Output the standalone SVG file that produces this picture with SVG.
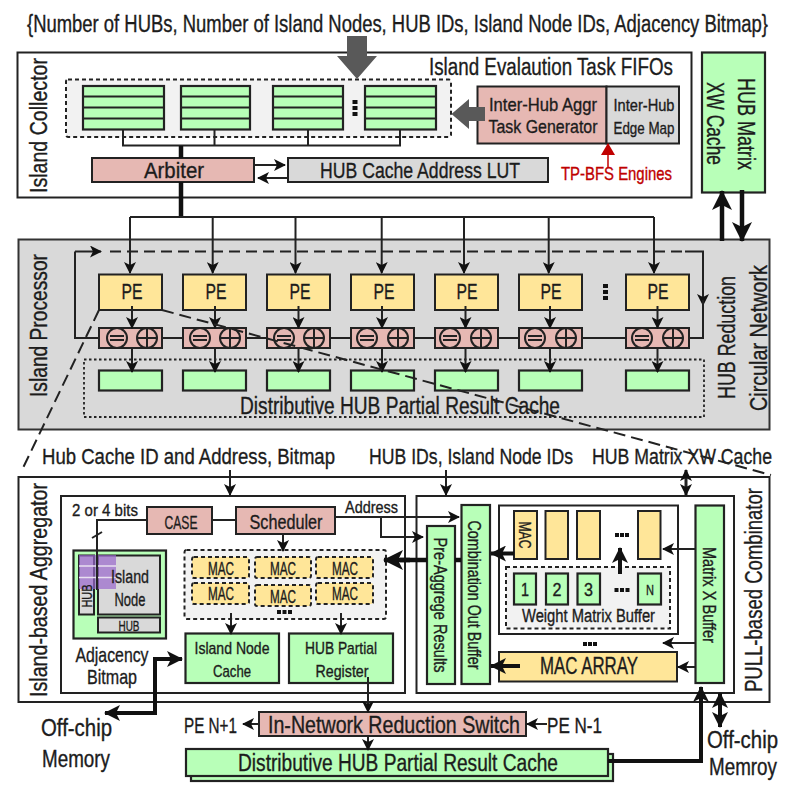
<svg xmlns="http://www.w3.org/2000/svg" width="793" height="789" viewBox="0 0 793 789">
<style>
text{font-family:"Liberation Sans",Arial,sans-serif;fill:#1c1c1c;text-anchor:middle;font-weight:500;stroke:#1c1c1c;stroke-width:.35}
.b{stroke:#222;stroke-width:2;fill:#fff}
.g{stroke:#222;stroke-width:2.2;fill:#b8ffb8}
.y{stroke:#222;stroke-width:2;fill:#ffe699}
.p{stroke:#222;stroke-width:2;fill:#e6b8b3}
.e{stroke:#222;stroke-width:2;fill:#d9d9d9}
.d{stroke:#222;stroke-width:2;fill:#f2f2f2;stroke-dasharray:4 3}
.m{stroke:#222;stroke-width:2;fill:#ffe699;stroke-dasharray:4 3}
.n{fill:none;stroke:#222;stroke-width:2}
.l{fill:none;stroke:#222;stroke-width:2;marker-end:url(#a)}
.t{fill:none;stroke:#111;stroke-width:4.5}
.th{fill:none;stroke:#111;stroke-width:4.5;marker-end:url(#h)}
.ts{fill:none;stroke:#111;stroke-width:4;marker-end:url(#s)}
.z{fill:none;stroke:#222;stroke-width:2;stroke-dasharray:12 6}
.c{fill:none;stroke:#222;stroke-width:2}
</style>
<defs>
<marker id="a" markerUnits="userSpaceOnUse" viewBox="0 0 12 12" refX="11" refY="6" markerWidth="12" markerHeight="12" orient="auto-start-reverse"><path d="M0,0L12,6L0,12L3,6z" fill="#111"/></marker>
<marker id="h" markerUnits="userSpaceOnUse" viewBox="0 0 20 20" refX="19" refY="10" markerWidth="20" markerHeight="20" orient="auto-start-reverse"><path d="M0,0L20,10L0,20L5,10z" fill="#111"/></marker>
<marker id="s" markerUnits="userSpaceOnUse" viewBox="0 0 16 16" refX="15" refY="8" markerWidth="16" markerHeight="16" orient="auto-start-reverse"><path d="M0,0L16,8L0,16L4,8z" fill="#111"/></marker>
<marker id="r" markerUnits="userSpaceOnUse" viewBox="0 0 12 14" refX="11" refY="7" markerWidth="12" markerHeight="14" orient="auto"><path d="M0,0L12,7L0,14z" fill="#c00000"/></marker>
</defs>

<text x="397.500" y="32" font-size="23" textLength="741" lengthAdjust="spacingAndGlyphs">{Number of HUBs, Number of Island Nodes, HUB IDs, Island Node IDs, Adjacency Bitmap}</text>

<g id="island-collector">
<rect class="b" x="17.500" y="52.500" width="674" height="145"/>
<text transform="translate(47,125.500) rotate(-90)" font-size="23" textLength="135" lengthAdjust="spacingAndGlyphs">Island Collector</text>
<text x="551" y="75" font-size="23" textLength="244" lengthAdjust="spacingAndGlyphs">Island Evalaution Task FIFOs</text>
</g>
<g id="task-fifos">
<rect class="d" x="66" y="79.500" width="385" height="57.500" rx="2"/>
<g id="fifo-1"><rect class="g" x="83" y="86" width="81" height="43.500"/><path class="n" d="M83,96.500H164M83,107.500H164M83,118.500H164"/></g>
<g id="fifo-2"><rect class="g" x="181" y="86" width="69" height="43.500"/><path class="n" d="M181,96.500H250M181,107.500H250M181,118.500H250"/></g>
<g id="fifo-3"><rect class="g" x="273" y="86" width="70" height="43.500"/><path class="n" d="M273,96.500H343M273,107.500H343M273,118.500H343"/></g>
<g id="fifo-4"><rect class="g" x="365" y="86" width="71" height="43.500"/><path class="n" d="M365,96.500H436M365,107.500H436M365,118.500H436"/></g>
<path d="M352.500,100h5v4h-5zM352.500,106h5v4h-5zM352.500,112h5v4h-5z" fill="#111"/>
</g>
<g id="arbiter"><rect class="p" x="92" y="158" width="162" height="24"/><text x="174" y="178" font-size="22" textLength="60" lengthAdjust="spacingAndGlyphs">Arbiter</text></g>
<g id="lut"><rect class="e" x="288" y="158" width="260" height="24"/><text x="420" y="178" font-size="22" textLength="200" lengthAdjust="spacingAndGlyphs">HUB Cache Address LUT</text></g>
<g id="task-generator"><rect class="p" x="477.500" y="86.500" width="129" height="57"/><text x="543" y="111" font-size="19" textLength="108" lengthAdjust="spacingAndGlyphs">Inter-Hub Aggr</text><text x="543" y="133" font-size="19" textLength="109" lengthAdjust="spacingAndGlyphs">Task Generator</text></g>
<g id="edge-map"><rect class="e" x="606.500" y="86.500" width="72.500" height="57"/><text x="644" y="111" font-size="17" textLength="61" lengthAdjust="spacingAndGlyphs">Inter-Hub</text><text x="644" y="134" font-size="17" textLength="61" lengthAdjust="spacingAndGlyphs">Edge Map</text></g>
<g id="tp-bfs"><text x="616.500" y="180" font-size="19" textLength="111" lengthAdjust="spacingAndGlyphs" style="fill:#c00000;stroke:#c00000">TP-BFS Engines</text></g>
<g id="xw-cache"><rect class="g" x="702" y="52.500" width="63" height="140"/><text transform="translate(738,124) rotate(90)" font-size="23" textLength="92" lengthAdjust="spacingAndGlyphs">HUB Matrix</text><text transform="translate(707,123.500) rotate(90)" font-size="23" textLength="83" lengthAdjust="spacingAndGlyphs">XW Cache</text></g>

<g id="island-processor">
<rect x="18.500" y="239.500" width="751" height="190" stroke="#333" stroke-width="2" fill="#d9d9d9"/>
<text transform="translate(47,325.500) rotate(-90)" font-size="23" textLength="143" lengthAdjust="spacingAndGlyphs">Island Processor</text>
<text transform="translate(735,337.500) rotate(-90)" font-size="23" textLength="123" lengthAdjust="spacingAndGlyphs">HUB Reduction</text>
<text transform="translate(767,338) rotate(-90)" font-size="23" textLength="146" lengthAdjust="spacingAndGlyphs">Circular Network</text>
<rect x="84" y="359.500" width="620" height="57.500" fill="none" stroke="#222" stroke-width="1.800" stroke-dasharray="2.500 2.500"/>
<text x="400" y="413.500" font-size="23" textLength="320" lengthAdjust="spacingAndGlyphs">Distributive HUB Partial Result Cache</text>
<path d="M603,284h5v4h-5zM603,290h5v4h-5zM603,296h5v4h-5z" fill="#111"/>
</g>
<g id="pe-1"><rect class="y" x="99" y="274.500" width="63" height="35.500"/><text x="132" y="299" font-size="22" textLength="21" lengthAdjust="spacingAndGlyphs">PE</text><rect class="p" x="99" y="328" width="63" height="20"/><circle class="c" cx="117" cy="338" r="10"/><circle class="c" cx="147" cy="338" r="10"/><path class="n" d="M110,336h14M110,340h14M137,338h20M147,328v20"/><rect class="g" x="99" y="370.500" width="63" height="20"/></g>
<g id="pe-2"><rect class="y" x="183" y="274.500" width="63" height="35.500"/><text x="216" y="299" font-size="22" textLength="21" lengthAdjust="spacingAndGlyphs">PE</text><rect class="p" x="183" y="328" width="63" height="20"/><circle class="c" cx="200" cy="338" r="10"/><circle class="c" cx="230" cy="338" r="10"/><path class="n" d="M193,336h14M193,340h14M220,338h20M230,328v20"/><rect class="g" x="183" y="370.500" width="63" height="20"/></g>
<g id="pe-3"><rect class="y" x="267" y="274.500" width="63" height="35.500"/><text x="300" y="299" font-size="22" textLength="21" lengthAdjust="spacingAndGlyphs">PE</text><rect class="p" x="267" y="328" width="63" height="20"/><circle class="c" cx="284" cy="338" r="10"/><circle class="c" cx="314" cy="338" r="10"/><path class="n" d="M277,336h14M277,340h14M304,338h20M314,328v20"/><rect class="g" x="267" y="370.500" width="63" height="20"/></g>
<g id="pe-4"><rect class="y" x="351" y="274.500" width="63" height="35.500"/><text x="384" y="299" font-size="22" textLength="21" lengthAdjust="spacingAndGlyphs">PE</text><rect class="p" x="351" y="328" width="63" height="20"/><circle class="c" cx="367" cy="338" r="10"/><circle class="c" cx="398" cy="338" r="10"/><path class="n" d="M360,336h14M360,340h14M388,338h20M398,328v20"/><rect class="g" x="351" y="370.500" width="63" height="20"/></g>
<g id="pe-5"><rect class="y" x="435" y="274.500" width="63" height="35.500"/><text x="467" y="299" font-size="22" textLength="21" lengthAdjust="spacingAndGlyphs">PE</text><rect class="p" x="435" y="328" width="63" height="20"/><circle class="c" cx="450" cy="338" r="10"/><circle class="c" cx="481" cy="338" r="10"/><path class="n" d="M443,336h14M443,340h14M471,338h20M481,328v20"/><rect class="g" x="435" y="370.500" width="63" height="20"/></g>
<g id="pe-6"><rect class="y" x="519" y="274.500" width="63" height="35.500"/><text x="551" y="299" font-size="22" textLength="21" lengthAdjust="spacingAndGlyphs">PE</text><rect class="p" x="519" y="328" width="63" height="20"/><circle class="c" cx="535" cy="338" r="10"/><circle class="c" cx="566" cy="338" r="10"/><path class="n" d="M528,336h14M528,340h14M556,338h20M566,328v20"/><rect class="g" x="519" y="370.500" width="63" height="20"/></g>
<g id="pe-7"><rect class="y" x="626" y="274.500" width="63" height="35.500"/><text x="658" y="299" font-size="22" textLength="21" lengthAdjust="spacingAndGlyphs">PE</text><rect class="p" x="626" y="328" width="63" height="20"/><circle class="c" cx="642" cy="338" r="10"/><circle class="c" cx="673" cy="338" r="10"/><path class="n" d="M635,336h14M635,340h14M663,338h20M673,328v20"/><rect class="g" x="626" y="370.500" width="63" height="20"/></g>

<g id="zoom-labels">
<text x="188.500" y="464" font-size="22" textLength="293" lengthAdjust="spacingAndGlyphs">Hub Cache ID and Address, Bitmap</text>
<text x="471" y="464" font-size="22" textLength="204" lengthAdjust="spacingAndGlyphs">HUB IDs, Island Node IDs</text>
<text x="682" y="464" font-size="22" textLength="180" lengthAdjust="spacingAndGlyphs">HUB Matrix XW Cache</text>
</g>

<g id="pe-detail">
<rect class="b" x="18.500" y="477" width="751" height="225"/>
<text transform="translate(47,590) rotate(-90)" font-size="23" textLength="214" lengthAdjust="spacingAndGlyphs">Island-based Aggregator</text>
<text transform="translate(762,590) rotate(-90)" font-size="23" textLength="204" lengthAdjust="spacingAndGlyphs">PULL-based Combinator</text>
</g>
<g id="island-aggregator">
<rect class="b" x="61" y="496" width="344" height="197"/>
<text x="105" y="516" font-size="17" textLength="66" lengthAdjust="spacingAndGlyphs">2 or 4 bits</text>
<text x="371.500" y="513" font-size="17" textLength="53" lengthAdjust="spacingAndGlyphs">Address</text>
</g>
<g id="case"><rect class="p" x="147" y="507" width="65" height="27"/><text x="181" y="529" font-size="19" textLength="33" lengthAdjust="spacingAndGlyphs">CASE</text></g>
<g id="scheduler"><rect class="p" x="236" y="507" width="99" height="27"/><text x="286" y="529" font-size="20" textLength="73" lengthAdjust="spacingAndGlyphs">Scheduler</text></g>
<g id="adjacency-bitmap">
<rect class="g" x="73.500" y="550.500" width="92.500" height="88"/>
<rect class="e" x="79" y="555.500" width="15" height="59"/>
<rect class="e" x="98" y="555.500" width="62" height="59"/>
<rect class="e" x="98" y="617.500" width="62" height="15"/>
<rect x="79" y="555" width="37" height="34" fill="#9966cc" fill-opacity=".7"/>
<path d="M79,566H116M79,577.500H116" stroke="#e8e0f0" stroke-width="1.500"/>
<text transform="translate(92,596) rotate(-90)" font-size="14" textLength="23" lengthAdjust="spacingAndGlyphs">HUB</text>
<text x="130" y="583" font-size="19" textLength="38" lengthAdjust="spacingAndGlyphs">Island</text>
<text x="130" y="606" font-size="19" textLength="31" lengthAdjust="spacingAndGlyphs">Node</text>
<text x="129" y="631" font-size="15" textLength="21" lengthAdjust="spacingAndGlyphs">HUB</text>
<text x="112" y="662" font-size="21" textLength="73" lengthAdjust="spacingAndGlyphs">Adjacency</text>
<text x="112" y="684" font-size="21" textLength="50" lengthAdjust="spacingAndGlyphs">Bitmap</text>
</g>
<g id="mac-pool">
<rect class="d" x="184.500" y="550" width="201.500" height="69" rx="2"/>
<rect class="m" x="192" y="557" width="57" height="21" rx="2"/><text x="221" y="575" font-size="18" textLength="26" lengthAdjust="spacingAndGlyphs">MAC</text>
<rect class="m" x="255" y="557" width="56" height="21" rx="2"/><text x="283" y="575" font-size="18" textLength="26" lengthAdjust="spacingAndGlyphs">MAC</text>
<rect class="m" x="316" y="557" width="57" height="21" rx="2"/><text x="345" y="575" font-size="18" textLength="26" lengthAdjust="spacingAndGlyphs">MAC</text>
<rect class="m" x="192" y="583" width="57" height="21" rx="2"/><text x="221" y="600" font-size="18" textLength="26" lengthAdjust="spacingAndGlyphs">MAC</text>
<rect class="m" x="255" y="585" width="56" height="21" rx="2"/><text x="283" y="603" font-size="18" textLength="26" lengthAdjust="spacingAndGlyphs">MAC</text>
<rect class="m" x="316" y="583" width="57" height="21" rx="2"/><text x="345" y="600" font-size="18" textLength="26" lengthAdjust="spacingAndGlyphs">MAC</text>
<path d="M277,610h4v4h-4zM282.500,610h4v4h-4zM288,610h4v4h-4z" fill="#111"/>
</g>
<g id="island-node-cache"><rect class="g" x="185.500" y="633.500" width="93.500" height="49.500"/><text x="232" y="654" font-size="17" textLength="75" lengthAdjust="spacingAndGlyphs">Island Node</text><text x="232" y="677" font-size="17" textLength="38" lengthAdjust="spacingAndGlyphs">Cache</text></g>
<g id="hub-partial-register"><rect class="g" x="289" y="633.500" width="104" height="49.500"/><text x="341" y="654" font-size="17" textLength="72" lengthAdjust="spacingAndGlyphs">HUB Partial</text><text x="342" y="677" font-size="17" textLength="53" lengthAdjust="spacingAndGlyphs">Register</text></g>

<g id="pull-combinator"><rect class="b" x="416.500" y="496" width="317.500" height="197"/></g>
<g id="pre-aggregate"><rect class="g" x="427" y="526" width="28" height="158"/><text transform="translate(434,605) rotate(90)" font-size="18" textLength="135" lengthAdjust="spacingAndGlyphs">Pre-Aggrege Results</text></g>
<g id="combination-buffer"><rect class="g" x="461.500" y="505" width="28.500" height="179"/><text transform="translate(468,595) rotate(90)" font-size="18" textLength="149" lengthAdjust="spacingAndGlyphs">Combination Out Buffer</text></g>
<g id="weight-unit">
<rect class="b" x="499" y="505.500" width="179" height="128.500"/>
<rect class="y" x="514" y="511" width="23" height="48"/><text transform="translate(519,535) rotate(90)" font-size="17" textLength="27" lengthAdjust="spacingAndGlyphs">MAC</text>
<rect class="y" x="545.500" y="511" width="22.500" height="48"/>
<rect class="y" x="577" y="511" width="23" height="48"/>
<rect class="y" x="638" y="511" width="22.500" height="48"/>
<path d="M615,533h4v4h-4zM620,533h4v4h-4zM625,533h4v4h-4z" fill="#111"/>
<rect class="d" x="506" y="567" width="164" height="61.500"/>
<rect class="g" x="514" y="573.500" width="22" height="31"/><text x="525" y="596" font-size="18" textLength="8" lengthAdjust="spacingAndGlyphs">1</text>
<rect class="g" x="546" y="573.500" width="22" height="31"/><text x="557" y="596" font-size="18" textLength="9" lengthAdjust="spacingAndGlyphs">2</text>
<rect class="g" x="577.500" y="573.500" width="22.500" height="31"/><text x="588.500" y="596" font-size="18" textLength="9" lengthAdjust="spacingAndGlyphs">3</text>
<rect class="g" x="638" y="573.500" width="23" height="31"/><text x="650" y="595" font-size="15" textLength="8" lengthAdjust="spacingAndGlyphs">N</text>
<path d="M614.500,588h4v4h-4zM620,588h4v4h-4zM625.500,588h4v4h-4z" fill="#111"/>
<text x="588.500" y="622" font-size="18" textLength="133" lengthAdjust="spacingAndGlyphs">Weight Matrix Buffer</text>
</g>
<g id="matrix-x-buffer"><rect class="g" x="695.500" y="505.500" width="28.500" height="177.500"/><text transform="translate(703,595) rotate(90)" font-size="18" textLength="96" lengthAdjust="spacingAndGlyphs">Matrix X Buffer</text></g>
<g id="mac-array"><rect class="y" x="499" y="652" width="178" height="29.500"/><text x="589" y="674" font-size="23" textLength="98" lengthAdjust="spacingAndGlyphs">MAC ARRAY</text><path d="M583,642h4v4h-4zM588,642h4v4h-4zM593,642h4v4h-4z" fill="#111"/></g>

<g id="reduction-switch"><rect class="p" x="259" y="712" width="267" height="24"/><text x="394" y="733" font-size="24" textLength="252" lengthAdjust="spacingAndGlyphs">In-Network Reduction Switch</text></g>
<g id="bottom-cache"><rect class="g" x="191" y="754" width="422" height="27"/><rect class="g" x="186" y="749" width="422" height="27"/><text x="398" y="771" font-size="23" textLength="320" lengthAdjust="spacingAndGlyphs">Distributive HUB Partial Result Cache</text></g>
<g id="port-labels">
<text x="210.500" y="733" font-size="22" textLength="53" lengthAdjust="spacingAndGlyphs">PE N+1</text>
<text x="574.500" y="733" font-size="22" textLength="55" lengthAdjust="spacingAndGlyphs">PE N-1</text>
<text x="76.500" y="736" font-size="23" textLength="71" lengthAdjust="spacingAndGlyphs">Off-chip</text>
<text x="76" y="767" font-size="23" textLength="68" lengthAdjust="spacingAndGlyphs">Memory</text>
<text x="742.500" y="748" font-size="23" textLength="71" lengthAdjust="spacingAndGlyphs">Off-chip</text>
<text x="743" y="775" font-size="23" textLength="68" lengthAdjust="spacingAndGlyphs">Memroy</text>
</g>

<g id="connectors">
<path d="M347,36h20v20h10l-20,23l-20,-23h10z" fill="#595959"/>
<path d="M451.500,114l17.500,-15v8h16v14h-16v8z" fill="#595959"/>
<path class="n" d="M123,130v15.500H400V130M214.500,130v15.500M308,130v15.500"/>
<path class="t" d="M181,146V158M181,182V217"/>
<path class="n" d="M130,217H654"/>
<path class="l" d="M130,217V273"/><path class="l" d="M212.700,217V273"/><path class="l" d="M295.500,217V273"/><path class="l" d="M381.700,217V273"/><path class="l" d="M464,217V273"/><path class="l" d="M548.700,217V273"/><path class="l" d="M654,217V273"/>
<path class="l" d="M254,165H285"/><path class="l" d="M288,178H258"/>
<path d="M608,168V144" fill="none" stroke="#c00000" stroke-width="1.500" marker-end="url(#r)"/>
<path class="th" d="M722,241V191"/><path class="th" d="M742,190V241"/>

<path class="n" d="M99,338H75V251.500"/><path class="l" d="M75,251.500H101"/>
<path d="M110,251.500H685" fill="none" stroke="#222" stroke-width="2" stroke-dasharray="11 6"/>
<path class="l" d="M685,251.500H703V305"/><path class="n" d="M703,300V338H689"/>
<path class="n" d="M162,338H183M246,338H267M330,338H351M414,338H435M498,338H519M582,338H626"/>
<path class="l" d="M132,306V328"/><path class="l" d="M215,306V328"/><path class="l" d="M298.500,306V328"/><path class="l" d="M382,306V328"/><path class="l" d="M465.500,306V328"/><path class="l" d="M550,306V328"/><path class="l" d="M657.500,306V328"/>
<path class="l" d="M132,348V372"/><path class="l" d="M215,348V372"/><path class="l" d="M298.500,348V372"/><path class="l" d="M382,348V372"/><path class="l" d="M465.500,348V372"/><path class="l" d="M550,348V372"/><path class="l" d="M657.500,348V372"/>

<path class="l" d="M230,470V495"/><path class="l" d="M446,470V495"/>
<path class="l" style="stroke-width:3;marker-start:url(#a)" d="M686,470V495"/>
<path class="n" d="M212,520H236M147,520H97V590"/><path class="n" d="M92,538L102,532"/>
<path class="l" d="M335,517H459"/><path class="l" d="M381,517V537H423"/>
<path class="l" d="M283,534V551"/><path class="l" d="M231,613V634"/><path class="l" d="M341,613V634"/>
<path class="t" d="M461,560H455M427,560H400"/><path class="th" d="M410,560H384"/>
<path class="ts" style="marker-start:url(#s)" d="M182,659H155V713H105"/>
<path class="l" d="M368,677V712"/><path class="l" d="M368,736V750"/>
<path class="l" d="M259,724H243"/><path class="l" d="M547,724H527"/>
<path class="ts" d="M608,761H701V687"/>
<path class="ts" style="marker-start:url(#s)" d="M720,693V727"/>
<path class="ts" d="M514,553.500H491"/><path class="ts" d="M620,574V548"/><path class="ts" d="M520,666H491"/>
<path class="l" d="M695,549H663"/><path class="l" d="M695,643H663"/><path class="l" d="M695,667H678"/>
<path class="z" d="M99,310L22,470"/><path class="z" d="M162,310L771,475"/>
</g>
</svg>
